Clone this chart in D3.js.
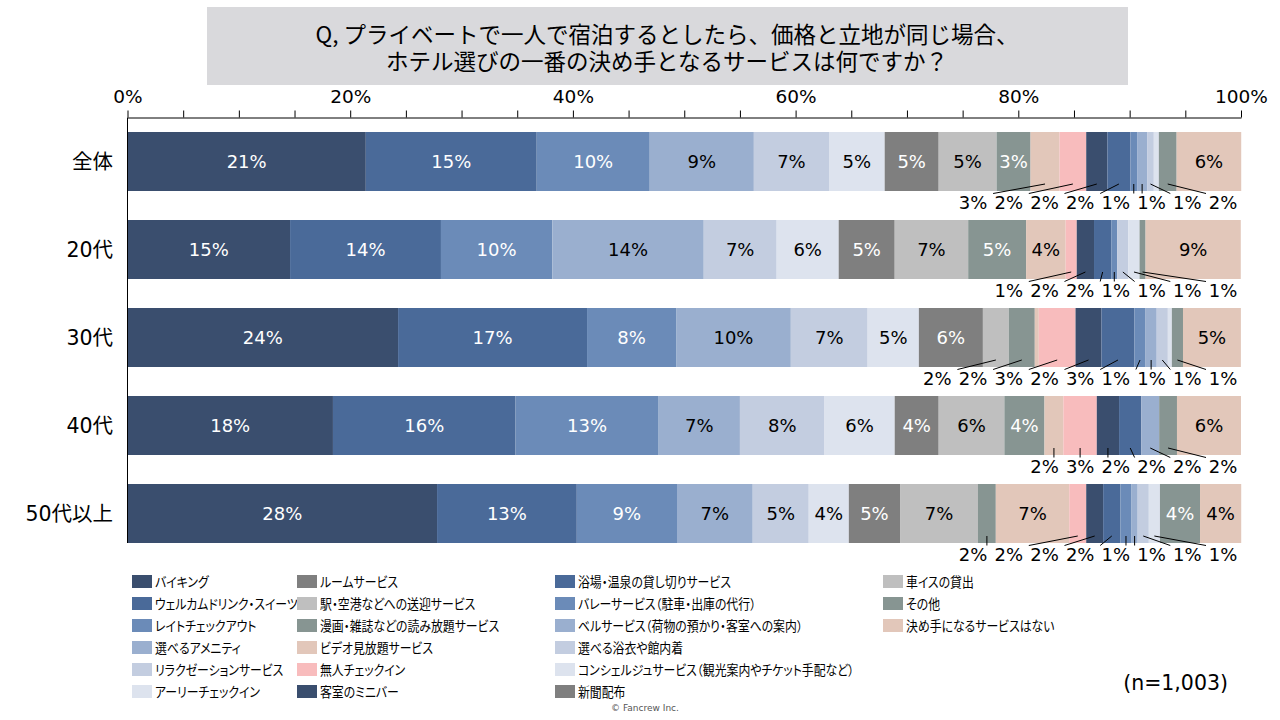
<!DOCTYPE html>
<html><head><meta charset="utf-8">
<script src="https://cdn.jsdelivr.net/npm/d3@7"></script>
<style>body{margin:0;background:#fff}svg{display:block}</style>
</head><body>
<svg id="c" width="1280" height="720"></svg>
<script>
// ---------- DATA ----------
const titleLines = ["Q, プライベートで一人で宿泊するとしたら、価格と立地が同じ場合、", "ホテル選びの一番の決め手となるサービスは何ですか？"];
const categories = ["全体", "20代", "30代", "40代", "50代以上"];
const seriesNames = [
  "バイキング", "ウェルカムドリンク・スイーツ", "レイトチェックアウト", "選べるアメニティ", "リラクゼーションサービス", "アーリーチェックイン",
  "ルームサービス", "駅・空港などへの送迎サービス", "漫画・雑誌などの読み放題サービス", "ビデオ見放題サービス", "無人チェックイン", "客室のミニバー",
  "浴場・温泉の貸し切りサービス", "バレーサービス（駐車・出庫の代行）", "ベルサービス（荷物の預かり・客室への案内）", "選べる浴衣や館内着", "コンシェルジュサービス（観光案内やチケット手配など）", "新聞配布",
  "車イスの貸出", "その他", "決め手になるサービスはない"
];
const valuesAll  = [21.4, 15.35, 10.15, 9.35, 6.75, 5.0, 4.85, 5.2, 3.05, 2.6, 2.4, 1.9, 2.07, 0.6, 0.9, 0.6, 0.45, 0, 0, 1.6, 5.8];
const values20s  = [14.6, 13.55, 10.0, 13.6, 6.55, 5.57, 5.03, 6.6, 5.2, 3.55, 1.0, 1.55, 1.55, 0.54, 0, 1.0, 1.0, 0, 0, 0.54, 8.55];
const values30s  = [24.3, 16.97, 8.0, 10.3, 6.9, 4.6, 5.75, 2.33, 2.33, 0.36, 3.3, 2.33, 2.96, 1.0, 1.0, 1.0, 0.36, 0, 0, 1.0, 5.2];
const values40s  = [18.45, 16.4, 12.85, 7.3, 7.6, 6.3, 3.95, 5.9, 3.6, 1.7, 3.0, 2.0, 2.0, 0, 1.6, 0, 0, 0, 0, 1.6, 5.75];
const values50s  = [27.8, 12.55, 9.0, 6.8, 5.03, 3.6, 4.6, 7.0, 1.6, 6.6, 1.52, 1.52, 1.55, 1.0, 0.55, 1.0, 1.0, 0, 0, 3.6, 3.7];
const tickValues = [0, 20, 40, 60, 80, 100];
const sampleNote = "(n=1,003)";
const copyright = "© Fancrew Inc.";

// ---------- STYLES ----------
const seriesColors = [
  "#3a4e6e", "#4a6a99", "#6b8bb8", "#9aafcf", "#c3cde0", "#dde3ee",
  "#7f7f7f", "#bfbfbf", "#879592", "#e2c7ba", "#f8bcbd", "#3a4e6e",
  "#4a6a99", "#6b8bb8", "#9aafcf", "#c3cde0", "#dde3ee", "#7f7f7f",
  "#bfbfbf", "#879592", "#e2c7ba"
];
const whiteLabel = new Set([0, 1, 2, 6, 8, 11, 12, 13, 17, 19]);
const NUMFONT = "'DejaVu Sans','Noto Sans CJK JP',sans-serif";
const JPFONT = "'Noto Sans CJK JP','DejaVu Sans',sans-serif";

// ---------- BUILD ----------
const allValues = [valuesAll, values20s, values30s, values40s, values50s];
const keys = seriesNames.map((d, i) => i);
const rows = categories.map((c, ci) => {
  const r = {cat: c};
  keys.forEach(k => r[k] = allValues[ci][k]);
  return r;
});
const stacked = d3.stack().keys(keys)(rows);

const svg = d3.select("#c");
const x = d3.scaleLinear().domain([0, 100]).range([127.5, 1241]);
const y = d3.scaleBand().domain(categories).range([117.5, 557.5]).paddingInner(29 / 88).paddingOuter(14.5 / 88);

// title
svg.append("rect").attr("x", 207).attr("y", 7).attr("width", 921).attr("height", 78).attr("fill", "#d9d9dc");
const tt = svg.append("text")
  .attr("text-anchor", "middle")
  .style("font-family", JPFONT).style("font-size", "22.5px").attr("fill", "#000");
tt.selectAll("tspan").data(titleLines).enter().append("tspan")
  .attr("x", 667).attr("y", (d, i) => 43 + i * 27)
  .text(d => d);

// bars
const layer = svg.append("g").selectAll("g").data(stacked).enter().append("g")
  .attr("fill", d => seriesColors[d.key]);
layer.selectAll("rect").data(d => d.map(s => ({s, key: d.key}))).enter().append("rect")
  .attr("x", d => x(d.s[0]))
  .attr("y", d => y(d.s.data.cat))
  .attr("width", d => Math.max(0, x(d.s[1]) - x(d.s[0])))
  .attr("height", y.bandwidth());

// axis
const axis = d3.axisTop(x).tickValues(d3.range(0, 101, 5)).tickSize(7).tickSizeOuter(0).tickPadding(8)
  .tickFormat(d => tickValues.includes(d) ? d + "%" : "");
const ag = svg.append("g").attr("transform", "translate(0,117.5)").call(axis);
ag.selectAll("text").style("font-family", NUMFONT).style("font-size", "18.5px").attr("fill", "#000");
ag.selectAll("line").attr("stroke", "#000");
ag.select(".domain").attr("stroke", "#000");
svg.append("line").attr("x1", 127.5).attr("x2", 127.5).attr("y1", 117.5).attr("y2", y(categories[categories.length - 1]) + y.bandwidth())
  .attr("stroke", "#000");

// y labels
svg.selectAll("text.cat").data(categories).enter().append("text")
  .attr("x", 113).attr("y", d => y(d) + y.bandwidth() / 2)
  .attr("text-anchor", "end").attr("dominant-baseline", "central")
  .style("font-family", NUMFONT).style("font-size", "20.5px").attr("fill", "#000")
  .text(d => d);

// data labels
const labelG = svg.append("g");
categories.forEach((cat, ci) => {
  const outside = [];
  keys.forEach(k => {
    const s = stacked[k][ci];
    const v = s[1] - s[0];
    const r = Math.round(v);
    if (r < 1) return;
    const cx = (x(s[0]) + x(s[1])) / 2;
    const inside = r >= 4 || (r === 3 && k < 9);
    if (inside) {
      labelG.append("text").attr("x", cx).attr("y", y(cat) + y.bandwidth() / 2)
        .attr("text-anchor", "middle").attr("dominant-baseline", "central")
        .style("font-family", NUMFONT).style("font-size", "18px")
        .attr("fill", whiteLabel.has(k) ? "#fff" : "#000")
        .text(r + "%");
    } else {
      outside.push({cx, r});
    }
  });
  const bottom = y(cat) + y.bandwidth();
  const n = outside.length;
  outside.forEach((o, i) => {
    const lx = 1223 - (n - 1 - i) * 35.7;
    const dx = Math.max(-17, Math.min(20, o.cx - lx));
    labelG.append("line").attr("x1", o.cx).attr("y1", bottom - 7).attr("x2", lx + dx).attr("y2", bottom + 2.5)
      .attr("stroke", "#000").attr("stroke-width", 1);
    labelG.append("text").attr("x", lx).attr("y", bottom + 17.5)
      .attr("text-anchor", "middle")
      .style("font-family", NUMFONT).style("font-size", "18px").attr("fill", "#000")
      .text(o.r + "%");
  });
});

// legend
const colX = [132, 297, 555, 883];
const colRows = [6, 6, 6, 3];
const legendItems = [];
let idx = 0;
colRows.forEach((nr, c) => { for (let r = 0; r < nr; r++) { legendItems.push({k: idx++, c, r}); } });
const lg = svg.append("g").selectAll("g").data(legendItems).enter().append("g")
  .attr("transform", d => `translate(${colX[d.c]},${575 + d.r * 22})`);
lg.append("rect").attr("width", 20).attr("height", 13).attr("fill", d => seriesColors[d.k]);
lg.append("text").attr("transform", "translate(23,6.5) scale(0.88,1)").attr("dominant-baseline", "central")
  .style("font-family", JPFONT).style("font-size", "13.5px").style("font-feature-settings", "'palt'")
  .attr("fill", "#000").text(d => seriesNames[d.k]);

// notes
svg.append("text").attr("x", 1228).attr("y", 690).attr("text-anchor", "end")
  .style("font-family", NUMFONT).style("font-size", "20.5px").attr("fill", "#000").text(sampleNote);
svg.append("text").attr("x", 645).attr("y", 711).attr("text-anchor", "middle")
  .style("font-family", NUMFONT).style("font-size", "9px").attr("fill", "#555").text(copyright);
</script>
</body></html>
